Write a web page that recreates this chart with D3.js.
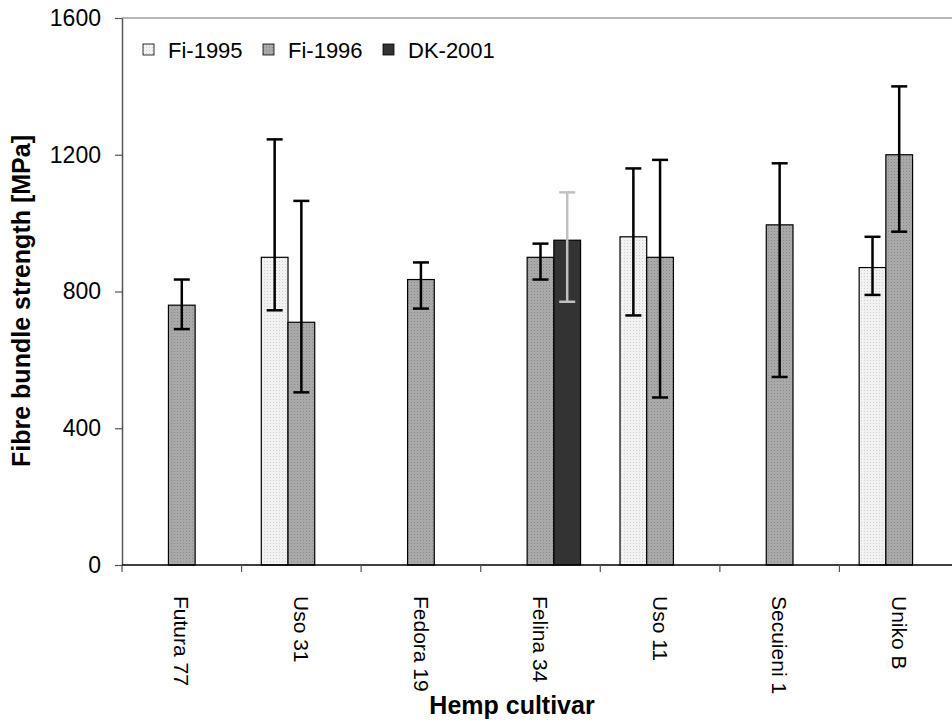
<html>
<head>
    <title>Fibre bundle strength</title>
    <meta charset="utf-8">
    <style>
        body { margin: 0; background: #fff; }
        svg { font-family: "Liberation Sans", Arial, sans-serif; }
        .errs line { stroke-width: 2.5px; }
    </style>
</head>
<body>
    <svg width="952" height="722"></svg>
    <script src="https://d3js.org/d3.v7.min.js"></script>
    <script>
        // data
        var cultivars = ["Futura 77", "Uso 31", "Fedora 19", "Felina 34", "Uso 11", "Secuieni 1", "Uniko B"];
        var seriesNames = ["Fi-1995", "Fi-1996", "DK-2001"];

        var fi1995     = [null, 900, null, null, 960, null, 870];
        var fi1995Low  = [null, 745, null, null, 730, null, 790];
        var fi1995High = [null, 1245, null, null, 1160, null, 960];

        var fi1996     = [760, 710, 835, 900, 900, 995, 1200];
        var fi1996Low  = [690, 505, 750, 835, 490, 550, 975];
        var fi1996High = [835, 1065, 885, 940, 1185, 1175, 1400];

        var dk2001     = [null, null, null, 950, null, null, null];
        var dk2001Low  = [null, null, null, 770, null, null, null];
        var dk2001High = [null, null, null, 1090, null, null, null];

        var yTicks = [0, 400, 800, 1200, 1600];

        var svg = d3.select("svg");
        var plotLeft = 122, plotTop = 18, plotBottom = 565, plotRight = 959;

        var defs = svg.append("defs");
        function dotPattern(id, bg, dot) {
            var p = defs.append("pattern").attr("id", id)
                .attr("width", 3).attr("height", 3).attr("patternUnits", "userSpaceOnUse");
            p.append("rect").attr("width", 3).attr("height", 3).attr("fill", bg);
            p.append("rect").attr("width", 1).attr("height", 1).attr("fill", dot);
        }
        dotPattern("p95", "#f2f2f2", "#cfcfcf");
        dotPattern("p96", "#a9a9a9", "#8a8a8a");
        var fills = { "Fi-1995": "url(#p95)", "Fi-1996": "url(#p96)", "DK-2001": "#333333" };
        var errColor = { "Fi-1995": "#000", "Fi-1996": "#000", "DK-2001": "#c0c0c0" };

        var series = [
            { name: "Fi-1995", values: fi1995, low: fi1995Low, high: fi1995High },
            { name: "Fi-1996", values: fi1996, low: fi1996Low, high: fi1996High },
            { name: "DK-2001", values: dk2001, low: dk2001Low, high: dk2001High }
        ];

        var x = d3.scaleBand().domain(cultivars).range([plotLeft, plotRight]);
        var groupW = x.bandwidth() * 0.67;
        var x1 = d3.scaleBand().domain(seriesNames)
            .range([(x.bandwidth() - groupW) / 2, (x.bandwidth() + groupW) / 2]);
        var y = d3.scaleLinear().domain([0, 1600]).range([plotBottom, plotTop]);

        // bars
        var bars = [];
        series.forEach(function (s) {
            s.values.forEach(function (v, i) {
                if (v !== null) bars.push({ s: s.name, c: cultivars[i], v: v, lo: s.low[i], hi: s.high[i] });
            });
        });

        svg.append("g").attr("class", "bars")
            .selectAll("rect").data(bars).enter().append("rect")
            .attr("x", function (d) { return x(d.c) + x1(d.s); })
            .attr("y", function (d) { return y(d.v); })
            .attr("width", x1.bandwidth())
            .attr("height", function (d) { return y(0) - y(d.v); })
            .attr("fill", function (d) { return fills[d.s]; })
            .attr("stroke", "#000")
            .attr("stroke-width", 1.2);

        // error bars
        var errs = svg.append("g").attr("class", "errs")
            .selectAll("g").data(bars).enter().append("g")
            .attr("stroke", function (d) { return errColor[d.s]; });
        function cx(d) { return x(d.c) + x1(d.s) + x1.bandwidth() / 2; }
        errs.append("line")
            .attr("x1", cx).attr("x2", cx)
            .attr("y1", function (d) { return y(d.lo); })
            .attr("y2", function (d) { return y(d.hi); });
        errs.append("line")
            .attr("x1", function (d) { return cx(d) - 8; }).attr("x2", function (d) { return cx(d) + 8; })
            .attr("y1", function (d) { return y(d.hi); }).attr("y2", function (d) { return y(d.hi); });
        errs.append("line")
            .attr("x1", function (d) { return cx(d) - 8; }).attr("x2", function (d) { return cx(d) + 8; })
            .attr("y1", function (d) { return y(d.lo); }).attr("y2", function (d) { return y(d.lo); });

        // top border
        svg.append("line")
            .attr("x1", plotLeft).attr("x2", 952).attr("y1", plotTop).attr("y2", plotTop)
            .attr("stroke", "#a0a0a0").attr("stroke-width", 1.5);

        // y axis
        var yAxis = svg.append("g")
            .attr("transform", "translate(" + plotLeft + ",0)")
            .call(d3.axisLeft(y).tickValues(yTicks).tickFormat(d3.format("d"))
                .tickSize(7).tickSizeOuter(0).tickPadding(14));
        yAxis.select(".domain").attr("stroke", "#555").attr("stroke-width", 1.5);
        yAxis.selectAll(".tick line").attr("stroke", "#555").attr("stroke-width", 1.2);
        yAxis.selectAll("text").attr("font-size", 23).attr("font-family", "Liberation Sans, Arial").attr("fill", "#000");

        // x axis
        var xAxis = svg.append("g");
        xAxis.append("line")
            .attr("x1", plotLeft).attr("x2", plotRight).attr("y1", plotBottom).attr("y2", plotBottom)
            .attr("stroke", "#000").attr("stroke-width", 1.5);
        xAxis.selectAll(".xt").data(cultivars).enter().append("line")
            .attr("x1", function (d) { return x(d); }).attr("x2", function (d) { return x(d); })
            .attr("y1", plotBottom).attr("y2", plotBottom + 7)
            .attr("stroke", "#555").attr("stroke-width", 1.2);
        xAxis.selectAll(".xl").data(cultivars).enter().append("text")
            .attr("transform", function (d) {
                return "translate(" + (x(d) + x.bandwidth() / 2) + "," + (plotBottom + 31) + ") rotate(90)";
            })
            .attr("dy", "0.35em")
            .attr("font-size", 21)
            .text(function (d) { return d; });

        // axis titles
        svg.append("text")
            .attr("transform", "translate(30,301) rotate(-90)")
            .attr("text-anchor", "middle")
            .attr("font-size", 25).attr("font-weight", "bold")
            .text("Fibre bundle strength [MPa]");
        svg.append("text")
            .attr("x", 512).attr("y", 714)
            .attr("text-anchor", "middle")
            .attr("font-size", 25).attr("font-weight", "bold")
            .text("Hemp cultivar");

        // legend
        var legendX = [143, 263, 383];
        var legend = svg.append("g").selectAll("g").data(seriesNames).enter().append("g")
            .attr("transform", function (d, i) { return "translate(" + legendX[i] + ",44)"; });
        legend.append("rect")
            .attr("width", 11).attr("height", 11)
            .attr("fill", function (d) { return fills[d]; })
            .attr("stroke", "#000").attr("stroke-width", 0.8);
        legend.append("text")
            .attr("x", 25).attr("y", 6).attr("dy", "0.35em")
            .attr("font-size", 22)
            .text(function (d) { return d; });
    </script>
</body>
</html>
